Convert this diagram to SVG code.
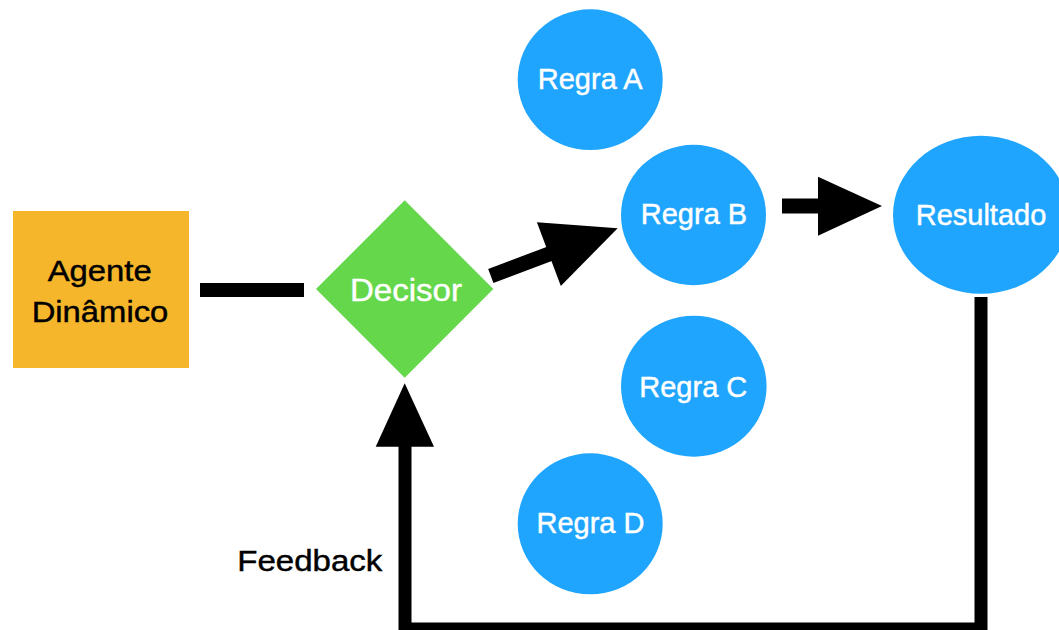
<svg xmlns="http://www.w3.org/2000/svg" width="1059" height="630" viewBox="0 0 1059 630">
  <style>
    .lbl { font-family: "Liberation Sans", Arial, Helvetica, sans-serif; text-anchor: middle; stroke-width: 0.45px; }
    .white { fill: #ffffff; stroke: #ffffff; font-size: 29px; }
    .dark { fill: #000000; stroke: #000000; font-size: 30px; }
    .rule { fill: #1FA5FE; }
    .ink { fill: #000000; }
  </style>
  <rect x="0" y="0" width="1059" height="630" fill="#ffffff"/>

  <!-- connectors -->
  <g id="connectors">
    <!-- agent to decider -->
    <rect class="ink" x="200" y="283" width="104" height="14"/>
    <!-- decider to rule B -->
    <g transform="translate(490.8 275.9) rotate(-20.57)">
      <rect class="ink" x="0" y="-7.5" width="63" height="15"/>
      <polygon class="ink" points="62,-34 135.5,0 62,34"/>
    </g>
    <!-- rule B to result -->
    <rect class="ink" x="782" y="198.5" width="37" height="15"/>
    <polygon class="ink" points="818,176.7 882,206 818,235.7"/>
    <!-- feedback loop back to the decider -->
    <path d="M981,297 V629 H405 V446" fill="none" stroke="#000" stroke-width="13" stroke-linejoin="miter"/>
    <polygon class="ink" points="375.7,446.7 404.7,383.3 434,446.7"/>
    <text class="lbl dark" x="309.8" y="571" textLength="145" lengthAdjust="spacingAndGlyphs">Feedback</text>
  </g>

  <g id="agente">
    <rect x="13" y="211" width="176" height="157" fill="#F6B62B"/>
    <text class="lbl dark" x="99.7" y="281" textLength="104" lengthAdjust="spacingAndGlyphs">Agente</text>
    <text class="lbl dark" x="100" y="321.7" textLength="136.7" lengthAdjust="spacingAndGlyphs">Dinâmico</text>
  </g>

  <g id="decisor">
    <polygon points="316,289 404.7,200.3 493.3,289 404.7,377.7" fill="#65D74A"/>
    <text class="lbl white" x="406" y="300.7" font-size="31.5" style="font-size:31.5px" textLength="112" lengthAdjust="spacingAndGlyphs">Decisor</text>
  </g>

  <g id="regra-a">
    <ellipse class="rule" cx="590.2" cy="79.7" rx="72.5" ry="70.4"/>
    <text class="lbl white" x="590.2" y="89.3">Regra A</text>
  </g>

  <g id="regra-b">
    <ellipse class="rule" cx="693.5" cy="215" rx="72.5" ry="70.2"/>
    <text class="lbl white" x="694" y="223.5">Regra B</text>
  </g>

  <g id="regra-c">
    <ellipse class="rule" cx="693.8" cy="386.2" rx="72.8" ry="70.5"/>
    <text class="lbl white" x="693.3" y="396.7">Regra C</text>
  </g>

  <g id="regra-d">
    <ellipse class="rule" cx="590.2" cy="523.8" rx="72.5" ry="70.5"/>
    <text class="lbl white" x="590.5" y="533.3">Regra D</text>
  </g>

  <g id="resultado">
    <ellipse class="rule" cx="981" cy="214.8" rx="88" ry="79"/>
    <text class="lbl white" x="981" y="225">Resultado</text>
  </g>
</svg>
